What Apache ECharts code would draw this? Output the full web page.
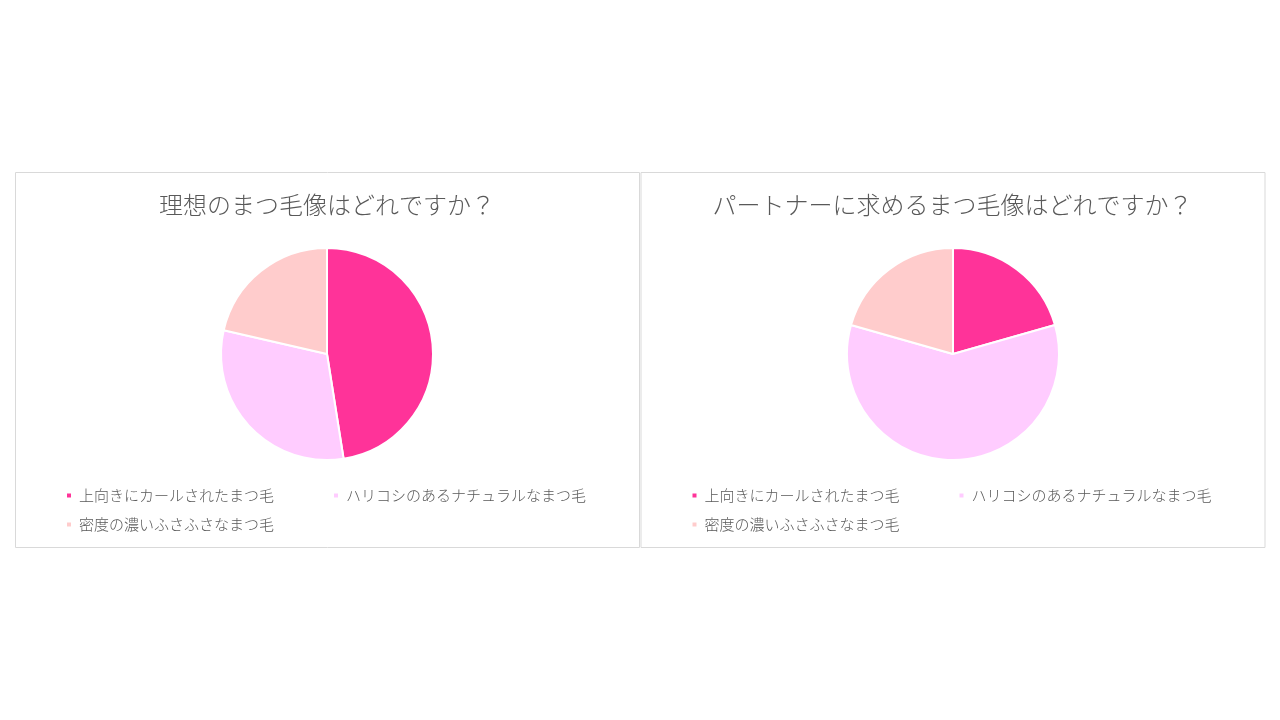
<!DOCTYPE html>
<html><head><meta charset="utf-8">
<script src="https://cdn.jsdelivr.net/npm/echarts@6/dist/echarts.min.js"></script>
<style>html,body{margin:0;padding:0;background:#fff;}#c{width:1280px;height:720px;}</style>
</head><body><div id="c"></div>
<script>
const categories = ['上向きにカールされたまつ毛', 'ハリコシのあるナチュラルなまつ毛', '密度の濃いふさふさなまつ毛'];
const titles = ['理想のまつ毛像はどれですか？', 'パートナーに求めるまつ毛像はどれですか？'];
const idealValues = [47.5, 31.1, 21.4];
const partnerValues = [20.6, 58.8, 20.6];
const colors = ['#FF3399', '#FFCCFF', '#FFCCCC'];

const chart = echarts.init(document.getElementById('c'));
const font = '"Noto Sans CJK JP","Noto Sans",sans-serif';
const panels = [{x: 15, w: 624, cx: 327}, {x: 640.5, w: 624, cx: 953}];
const seriesData = [idealValues, partnerValues];

const legends = [];
const titleList = [];
const series = [];
const graphics = [];
panels.forEach((p, pi) => {
  graphics.push({type: 'rect', shape: {x: p.x + 0.5, y: 172.5, width: p.w, height: 375},
    style: {fill: 'none', stroke: '#d9d9d9', lineWidth: 1}, silent: true});
  titleList.push({text: titles[pi], left: p.x + p.w / 2 - 5, top: 188, textAlign: 'center',
    textStyle: {fontFamily: font, fontSize: 24, fontWeight: 300, color: '#595959'}});
  const pos = [[p.x + 45, 483], [p.x + 312, 483], [p.x + 45, 512]];
  categories.forEach((c, ci) => {
    legends.push({data: [c], left: pos[ci][0], top: pos[ci][1], icon: 'rect',
      itemWidth: 6, itemHeight: 6, itemGap: 0, selectedMode: false,
      textStyle: {fontFamily: font, fontSize: 15, fontWeight: 300, color: '#595959', padding: [0, 0, 0, 2]}});
  });
  series.push({type: 'pie', center: [p.cx, 354], radius: 106, startAngle: 90, clockwise: true,
    label: {show: false}, labelLine: {show: false}, silent: true,
    itemStyle: {borderColor: '#fff', borderWidth: 2},
    data: categories.map((c, ci) => ({name: c, value: seriesData[pi][ci], itemStyle: {color: colors[ci]}}))});
});

chart.setOption({
  animation: false,
  color: colors,
  title: titleList,
  legend: legends,
  series: series,
  graphic: graphics
});
</script></body></html>
